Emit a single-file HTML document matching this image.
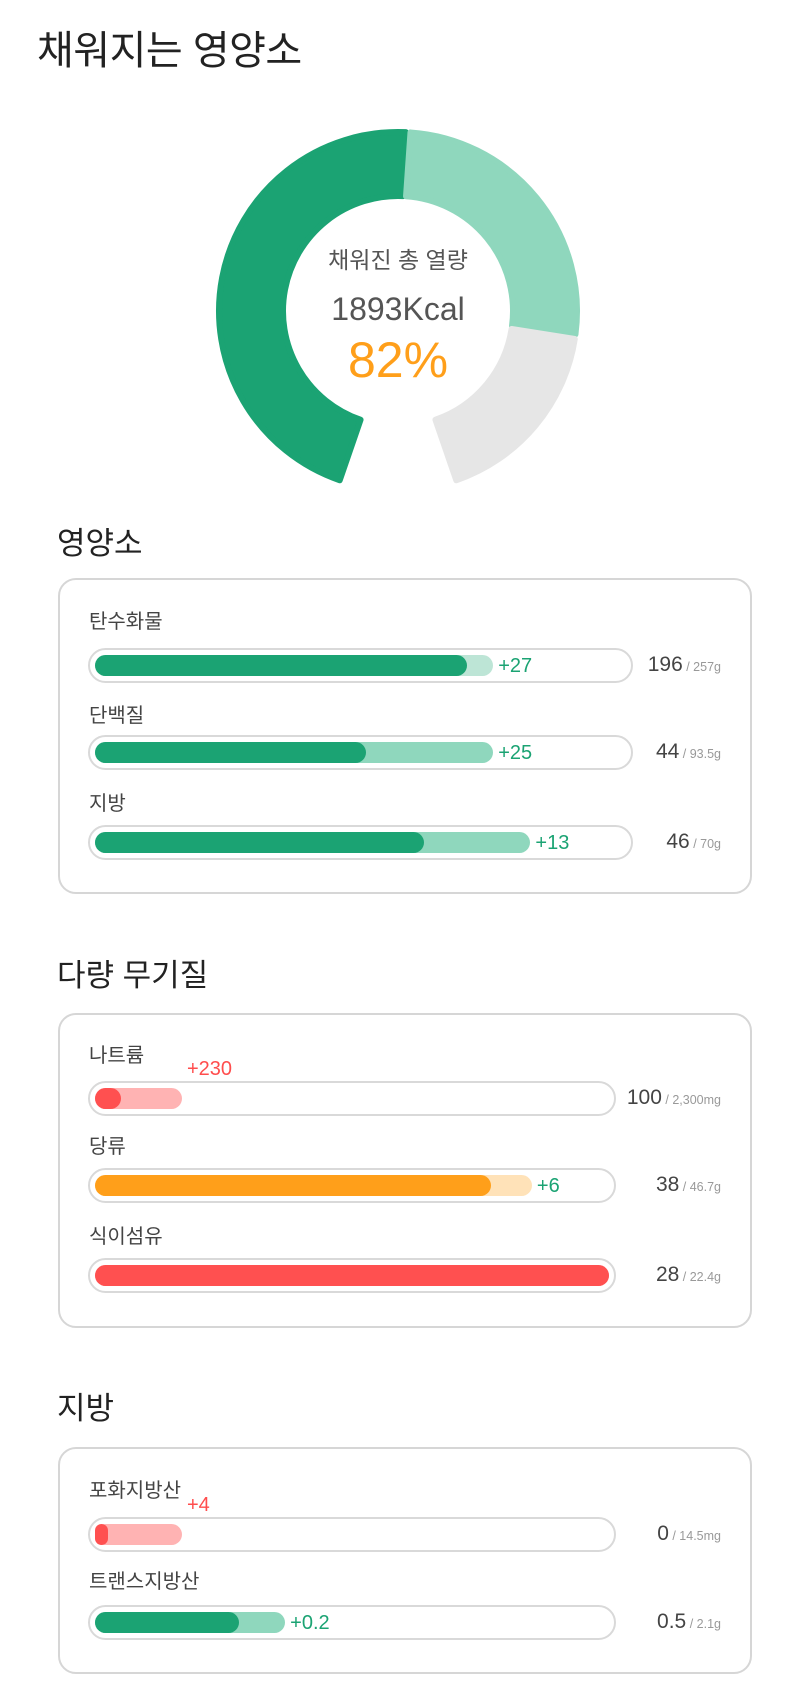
<!DOCTYPE html>
<html><head><meta charset="utf-8">
<style>
body{margin:0;background:#fff;width:786px;height:1700px;position:relative;overflow:hidden;font-family:"Liberation Sans","Noto Sans CJK KR",sans-serif;color:#333}
.abs{position:absolute}
.h1{left:37px;top:18px;font-size:40px;color:#222;white-space:nowrap;letter-spacing:-0.5px}
.h2{left:57px;font-size:31px;color:#222;white-space:nowrap}
.card{position:absolute;left:58px;width:694px;border:2px solid #d6d6d6;border-radius:18px;box-sizing:border-box}
.lbl{position:absolute;font-size:20px;color:#444;white-space:nowrap}
.track{position:absolute;height:35px;border:2px solid #d9d9d9;border-radius:18px;box-sizing:border-box;background:#fff}
.bar{position:absolute;height:21px;border-radius:11px}
.extra{position:absolute;font-size:20px;white-space:nowrap}
.val{position:absolute;right:65px;white-space:nowrap;color:#444;font-size:21px}
.val small{font-size:12.5px;color:#999}
</style></head>
<body>
<div class="abs h1">채워지는 영양소</div>
<svg class="abs" style="left:0;top:0" width="786" height="500">
<g id="donut"></g>
<text x="398" y="268" text-anchor="middle" font-size="23" fill="#555" font-family="Liberation Sans, Noto Sans CJK KR, sans-serif">채워진 총 열량</text>
<text x="398" y="320" text-anchor="middle" font-size="32" fill="#555" font-family="Liberation Sans, sans-serif">1893Kcal</text>
<text x="398" y="377" text-anchor="middle" font-size="50" fill="#ff9f1a" font-family="Liberation Sans, sans-serif">82%</text>
</svg>
<div class="abs h2" style="top:518px">영양소</div>
<div class="card" style="top:578px;height:316px"></div>
<div class="abs h2" style="top:950px">다량 무기질</div>
<div class="card" style="top:1013px;height:315px"></div>
<div class="abs h2" style="top:1383px">지방</div>
<div class="card" style="top:1447px;height:227px"></div>
<div id="rows"></div>
<script>
// donut segments in degrees (clockwise from top)
const donutStarts=[199,4,99];
const donutEnds=[362.5,97.5,161];
const donutColors=['#1ba373','#8fd7bd','#e6e6e6'];
const cx=398,cy=311,R=179,r=115;
function pt(a,rad){const t=(a-90)*Math.PI/180;return [cx+rad*Math.cos(t),cy+rad*Math.sin(t)];}
const g=document.getElementById('donut');
donutStarts.forEach((s,i)=>{
  const e=donutEnds[i];const large=(e-s)>180?1:0;
  const p1=pt(s,R),p2=pt(e,R),p3=pt(e,r),p4=pt(s,r);
  const d=`M${p1[0]},${p1[1]} A${R},${R} 0 ${large} 1 ${p2[0]},${p2[1]} L${p3[0]},${p3[1]} A${r},${r} 0 ${large} 0 ${p4[0]},${p4[1]} Z`;
  const p=document.createElementNS('http://www.w3.org/2000/svg','path');
  p.setAttribute('d',d);p.setAttribute('fill',donutColors[i]);p.setAttribute('stroke',donutColors[i]);
  p.setAttribute('stroke-width','6');p.setAttribute('stroke-linejoin','round');
  
  
  g.appendChild(p);
});
// bar rows
const rowLabels=['탄수화물','단백질','지방','나트륨','당류','식이섬유','포화지방산','트랜스지방산'];
const rowFill=[0.70,0.51,0.62,0.05,0.77,1.0,0.025,0.28];
const rowPlan=[0.75,0.75,0.82,0.17,0.85,1.0,0.17,0.37];
const rowExtra=['+27','+25','+13','+230','+6','','+4','+0.2'];
const rowValue=['196','44','46','100','38','28','0','0.5'];
const rowTarget=['257g','93.5g','70g','2,300mg','46.7g','22.4g','14.5mg','2.1g'];
const rowTheme=['gl','g','g','r','o','r','r','g'];
const labelTops=[611,705,793,1045,1136,1226,1480,1571];
const trackTops=[648,735,825,1081,1168,1258,1517,1605];
const trackW=[545,545,545,528,528,528,528,528];
const themes={g:['#1ba373','#8fd7bd','#1ba373'],gl:['#1ba373','#bde5d6','#1ba373'],r:['#ff5050','#ffb3b3','#ff4d4d'],o:['#ff9f1a','#ffe2b8','#1ba373']};
const root=document.getElementById('rows');
rowLabels.forEach((l,i)=>{
  const th=themes[rowTheme[i]];
  const lb=document.createElement('div');lb.className='lbl';lb.textContent=l;
  lb.style.left='89px';lb.style.top=(labelTops[i]-6)+'px';
  
  
  root.appendChild(lb);
  const tr=document.createElement('div');tr.className='track';
  tr.style.left='88px';tr.style.top=trackTops[i]+'px';tr.style.width=trackW[i]+'px';
  
  
  root.appendChild(tr);
  const inner=trackW[i]-14;
  const lt=document.createElement('div');lt.className='bar';lt.style.background=th[1];
  lt.style.left='95px';lt.style.top=(trackTops[i]+7)+'px';lt.style.width=(inner*rowPlan[i])+'px';
  
  
  root.appendChild(lt);
  const dk=document.createElement('div');dk.className='bar';dk.style.background=th[0];
  dk.style.left='95px';dk.style.top=(trackTops[i]+7)+'px';dk.style.width=Math.max(13,inner*rowFill[i])+'px';
  
  
  root.appendChild(dk);
  if(rowExtra[i]){
    const ex=document.createElement('div');ex.className='extra';ex.textContent=rowExtra[i];ex.style.color=th[2];
    if(rowTheme[i]==='r'){ex.style.left='187px';ex.style.top=(trackTops[i]-23)+'px';}
    else{ex.style.left=(95+inner*rowPlan[i]+5)+'px';ex.style.top=(trackTops[i]+7)+'px';}
    
    
    root.appendChild(ex);
  }
  const v=document.createElement('div');v.className='val';
  v.innerHTML=rowValue[i]+'<small> / '+rowTarget[i]+'</small>';
  v.style.top=(trackTops[i]+5)+'px';
  
  
  root.appendChild(v);
});
</script>
</body></html>
